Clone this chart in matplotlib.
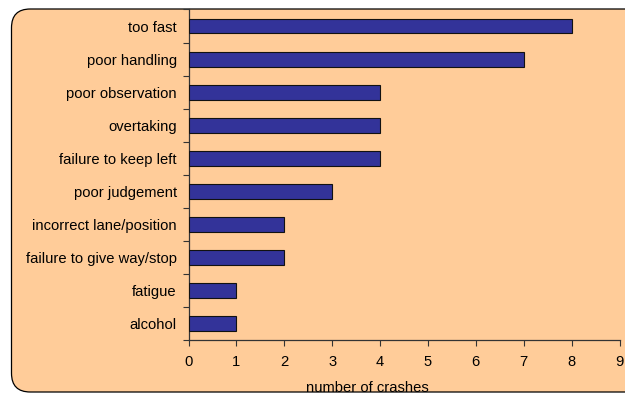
import matplotlib
matplotlib.use("Agg")
import matplotlib.pyplot as plt
from matplotlib.patches import FancyBboxPatch
import numpy as np

plt.rcParams['font.family'] = ['Liberation Sans', 'DejaVu Sans']

categories = ["too fast", "poor handling", "poor observation", "overtaking",
              "failure to keep left", "poor judgement", "incorrect lane/position",
              "failure to give way/stop", "fatigue", "alcohol"]
crashes = [8, 7, 4, 4, 4, 3, 2, 2, 1, 1]
x_ticks = list(range(0, 10))

W, H = 625, 394
FS = 10.6
fig = plt.figure(figsize=(W / 100, H / 100), dpi=100)
fig.patch.set_facecolor("white")

# rounded peach panel behind the chart
panel = FancyBboxPatch((11.5 / W, 2 / H), (W + 40) / W, (H - 11) / H,
                       boxstyle="round,pad=0,rounding_size=0.03",
                       transform=fig.transFigure, facecolor="#FFCC99",
                       edgecolor="black", linewidth=0.9, mutation_aspect=W / H,
                       zorder=-5)
fig.patches.append(panel)

ax = fig.add_axes([188.5 / W, (H - 340) / H, (619.5 - 188.5) / W, (340 - 9.5) / H])
ax.set_facecolor("none")

y = np.arange(len(categories))
ax.barh(y, crashes, height=0.45, color="#333399", edgecolor="#111111",
        linewidth=0.8, zorder=3)

ax.set_xlim(0, 9)
ax.set_ylim(len(categories) - 0.5, -0.5)
ax.set_xticks(x_ticks)
ax.set_xticklabels([str(t) for t in x_ticks], fontsize=FS)
ax.set_yticks(y)
ax.set_yticklabels(categories, fontsize=FS)
ax.set_yticks(np.arange(-0.5, len(categories) + 0.5, 1), minor=True)

ax.tick_params(axis="y", which="major", length=0, pad=8.5)
ax.tick_params(axis="y", which="minor", length=4, width=0.8, color="#333333", direction="out")
ax.tick_params(axis="x", which="major", length=4, width=0.8, color="#333333",
               direction="out", pad=7)

for side in ("top", "right"):
    ax.spines[side].set_visible(False)
for side in ("left", "bottom"):
    ax.spines[side].set_color("#333333")
    ax.spines[side].set_linewidth(0.9)

fig.text(367 / W, 1 - 388 / H, "number of crashes", ha="center", va="center", fontsize=FS)

fig.savefig("out.png", dpi=100)
